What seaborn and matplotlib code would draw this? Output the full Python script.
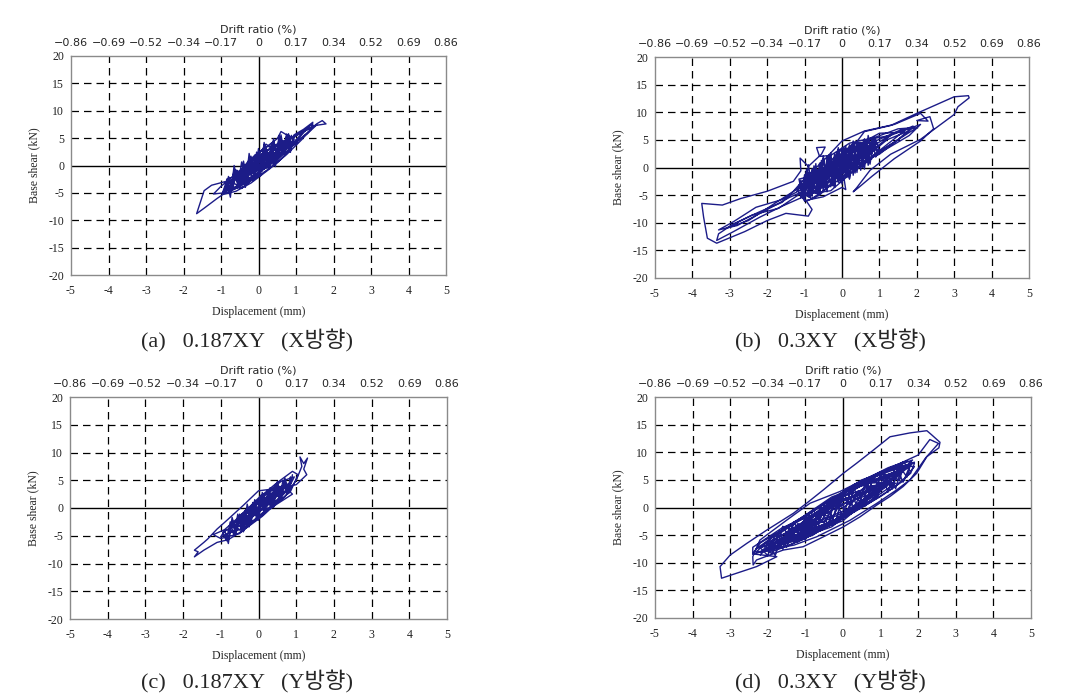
import matplotlib
matplotlib.use("Agg")
import matplotlib.pyplot as plt
import pandas as pd
import seaborn as sns

# ---------------- data ----------------
x_ticks = [-5, -4, -3, -2, -1, 0, 1, 2, 3, 4, 5]
y_ticks = [-20, -15, -10, -5, 0, 5, 10, 15, 20]
drift_labels = ["\u22120.86", "\u22120.69", "\u22120.52", "\u22120.34", "\u22120.17", "0",
                "0.17", "0.34", "0.52", "0.69", "0.86"]
captions = ["(a)   0.187XY   (X방향)", "(b)   0.3XY   (X방향)",
            "(c)   0.187XY   (Y방향)", "(d)   0.3XY   (Y방향)"]

# (a) 0.187XY, X direction -- outer cycles
a_disp = [0.0, 0.3, 0.55, 0.1, -0.45, -0.1, 0.6, 0.8, 0.3, -0.6,
          -0.75, -0.2, 0.45, 0.95, 0.6, 0.5, 0.0, -0.5, -0.9, -0.4,
          0.2, 0.7, 1.05, 0.7, 0.2, -0.35, -0.85, -0.95, -0.5, 0.1,
          0.5, 1.3, 1.55, 1.7, 1.8, 1.5, 1.1, 0.6, 0.1, -0.4,
          -0.7, -1.25, -1.45, -1.65, -1.45, -1.1, -0.95, -0.6, -0.2, 0.3,
          0.75, 1.15, 1.4, 1.45, 1.1, 0.4, -0.3, -0.65, -1.0, -1.2,
          -0.8, -0.1, 0.5, 0.85, 0.9, 0.4, -0.2, -0.55, -0.3, 0.25,
          0.65, 0.2, -0.25, -0.7, -0.45, 0.0, 0.4, 0.0, -0.3, 0.15,
          0.35, -0.1, 0.55, 0.2, -0.15, -0.6, -0.2, 0.35, 0.75, 0.05,
          -0.45, 0.0, 0.25, -0.1, -0.35, 0.1]
a_shear = [0.0, 0.5, 3.2, 1.8, -2.8, -1.8, 2.5, 4.6, 3.0, -2.2,
           -4.3, -2.6, 1.2, 4.8, 6.2, 4.9, 2.3, -1.5, -4.6, -3.9,
           -0.3, 2.8, 4.2, 4.4, 2.6, -1.0, -3.4, -5.0, -3.6, -0.8,
           1.0, 6.0, 7.6, 8.2, 7.6, 7.3, 5.8, 3.7, 1.4, -1.2,
           -2.6, -3.6, -4.6, -8.8, -7.8, -6.0, -5.3, -4.7, -3.2, -0.6,
           2.0, 4.7, 6.6, 7.6, 5.9, 3.6, 0.2, -1.8, -3.8, -5.2,
           -4.9, -2.4, 0.5, 2.9, 4.1, 2.7, -0.2, -3.2, -2.9, 0.3,
           3.8, 3.4, 1.0, -3.0, -4.2, -1.6, 2.0, 0.6, -1.8, 0.9,
           1.6, -0.9, 2.2, 3.9, 0.4, -3.9, -1.3, -0.2, 3.3, 1.2,
           -1.9, -0.5, 2.2, 1.9, -2.2, -0.2]
# (a) small cycles in the dense core
a_core_disp = [-0.85, -0.75, -0.65, -0.55, -0.45, -0.35, -0.25, -0.15, -0.05, 0.05,
               0.15, 0.25, 0.35, 0.45, 0.55, 0.65, 0.75, 0.85, 0.95,
               0.9, 0.8, 0.7, 0.6, 0.5, 0.4, 0.3, 0.2, 0.1, 0.0,
               -0.1, -0.2, -0.3, -0.4, -0.5, -0.6, -0.7, -0.8, -0.9,
               -0.8, -0.68, -0.56, -0.44, -0.32, -0.2, -0.08, 0.04, 0.16, 0.28,
               0.4, 0.52, 0.64, 0.76, 0.88,
               0.7, 0.6, 0.5, 0.4, 0.3, 0.2, 0.1, 0.0, -0.1, -0.2,
               -0.3, -0.4, -0.5, -0.6, -0.7,
               -0.95, -0.85, -0.75, -0.65, -0.55, -0.45, -0.35, -0.25, -0.15, -0.05,
               0.05, 0.15, 0.25, 0.35, 0.45, 0.55, 0.65, 0.75, 0.85, 0.95,
               1.2, 1.45, 1.1, 0.8, 1.3, 1.55, 1.2, 0.9]
a_core_shear = [-2.5, -5.0, -0.75, -3.75, 0.65, -3.45, 0.85, -2.75, 2.45, -1.15,
                3.75, -0.25, 4.05, 0.45, 5.25, 2.15, 5.75, 2.95, 5.5,
                3.5, 5.8, 1.8, 5.6, 1.3, 4.9, -0.4, 3.4, -1.0, 3.1,
                -2.1, 1.7, -2.8, 0.8, -4.2, -0.8, -4.4, -2.0, -4.8,
                -3.0, -3.9, -0.9, -2.5, -0.1, -1.8, 1.0, -0.5, 2.8, 1.2,
                3.6, 1.7, 4.5, 3.3, 5.5,
                3.4, 4.7, 1.4, 4.2, 0.9, 2.1, -0.7, 1.8, -0.9, 1.3,
                -2.5, -0.7, -3.9, -1.1, -3.6,
                -4.8, -2.8, -5.8, 0.0, -3.2, -0.6, -4.0, 2.2, -1.4, 1.6,
                -2.0, 4.2, 0.6, 3.4, -0.2, 5.4, 2.4, 5.4, 2.4, 5.6,
                6.6, 7.9, 5.2, 3.4, 5.8, 7.4, 6.2, 3.9]

# (b) 0.3XY, X direction -- outer cycles
b_disp = [0.0, 0.4, 0.8, 0.3, -0.4, -0.9, -0.5, 0.2, 0.9, 1.3,
          0.8, 0.0, -0.6, -1.1, -0.8, -0.2, 0.5, 1.0, 1.6, 1.9,
          1.5, 0.9, 0.2, -0.3, -0.6, -0.68, -0.45, -0.55, -0.9, -1.12,
          -1.1, -1.3, -2.0, -2.7, -3.2, -3.75, -3.7, -3.6, -3.35, -3.1,
          -2.6, -2.0, -1.5, -0.9, -0.8, -0.95, -0.6, 0.0, 0.3, 0.6,
          1.3, 2.0, 2.6, 3.0, 3.38, 3.4, 3.1, 3.0, 2.1, 1.3,
          0.75, 0.4, 0.3, 0.45, 0.8, 1.4, 2.1, 2.45, 2.35, 2.0,
          2.3, 2.1, 1.4, 0.6, 0.0, -0.5, -1.0, -1.3, -1.6, -2.2,
          -2.9, -3.3, -3.35, -2.9, -2.2, -1.6, -1.1, -0.6, 0.1, 0.7,
          1.2, 1.7, 1.0, 0.4, -0.2, -0.8, -1.2, -1.0, -0.5, 0.0,
          0.1, 0.05, 0.5, 1.0, 0.6, 0.0, -0.6, -1.0, -0.7, -0.2,
          0.4, 0.9, 0.3, -0.3, -0.8, -0.4, 0.2, 0.6, 0.0, -0.5,
          -1.0, -0.7, -0.2, 0.35, 0.7, 0.1, -0.4, -0.9, -0.3, 0.25,
          0.8, 0.5, -0.1, -0.5, 0.0]
b_shear = [0.0, 2.0, 4.2, 3.0, -0.8, -3.8, -3.2, 0.4, 3.6, 5.8,
           5.2, 2.6, -1.0, -4.6, -5.6, -2.8, 0.9, 2.4, 5.6, 7.2,
           7.0, 5.5, 4.4, 2.2, 2.0, 3.6, 3.7, 2.4, 0.2, 1.7,
           -0.6, -2.5, -4.3, -5.6, -6.8, -6.5, -9.0, -12.8, -13.7, -13.0,
           -11.6, -9.6, -8.3, -8.8, -7.6, -6.1, -5.0, -1.0, 3.8, 6.5,
           7.6, 9.8, 11.6, 12.8, 13.0, 12.6, 11.0, 9.6, 5.1, 2.4,
           -0.5, -3.6, -4.4, -3.6, -1.6, 1.6, 4.8, 7.0, 9.2, 8.5,
           8.4, 9.8, 7.8, 6.6, 4.8, 1.2, -2.0, -4.3, -6.3, -8.0,
           -10.2, -12.0, -13.2, -11.6, -9.0, -7.0, -5.5, -3.8, -0.5, 2.2,
           5.0, 6.4, 6.2, 4.0, 1.0, -2.0, -4.0, -6.0, -5.3, -3.6,
           -4.0, -1.8, 0.4, 3.0, 3.8, 1.8, -1.6, -3.2, -4.6, -1.6,
           1.2, 4.6, 4.4, 0.6, -3.0, -2.0, 1.0, 2.8, 3.3, -0.2,
           -2.6, -2.8, 0.0, 2.2, 3.0, 1.5, -1.5, -4.8, -4.2, -1.0,
           1.6, 2.5, -0.6, -2.4, -0.2]
# (b) small cycles in the dense core
b_core_disp = [-1.15, -1.05, -0.95, -0.85, -0.75, -0.65, -0.55, -0.45, -0.35, -0.25,
               -0.15, -0.05, 0.05, 0.15, 0.25, 0.35, 0.45, 0.55, 0.65, 0.75,
               0.85, 0.95,
               0.9, 0.8, 0.7, 0.6, 0.5, 0.4, 0.3, 0.2, 0.1, 0.0,
               -0.1, -0.2, -0.3, -0.4, -0.5, -0.6, -0.7, -0.8, -0.9, -1.0,
               -1.1,
               -1.0, -0.85, -0.7, -0.55, -0.4, -0.25, -0.1, 0.05, 0.2, 0.35,
               0.5, 0.65, 0.8,
               0.7, 0.55, 0.4, 0.25, 0.1, -0.05, -0.2, -0.35, -0.5, -0.65,
               -0.8, -0.95,
               -1.2, -1.1, -1.0, -0.9, -0.8, -0.7, -0.6, -0.5, -0.4, -0.3,
               -0.2, -0.1, 0.0, 0.1, 0.2, 0.3, 0.4, 0.5, 0.6, 0.7,
               0.8, 0.9, 1.0,
               0.5, 0.4, 0.3, 0.2, 0.1, 0.0, -0.1, -0.2, -0.3, -0.4,
               -0.5, -0.6, -0.7, -0.8, -0.9, -1.0]
b_core_shear = [-2.1, -5.6, -0.3, -5.4, 0.3, -4.8, 1.3, -3.7, 2.2, -3.3,
                2.7, -2.7, 3.6, -1.7, 4.0, -1.0, 4.5, 0.0, 5.0, 0.6,
                5.4, 2.4,
                1.9, 5.4, 0.4, 5.2, -0.5, 4.6, -1.4, 4.1, -1.7, 3.5,
                -2.7, 2.4, -3.5, 1.9, -4.3, 0.8, -4.7, -0.2, -5.3, -1.3,
                -5.5,
                -2.3, -4.0, -0.5, -3.1, 0.8, -1.9, 1.7, -1.0, 2.7, 0.4,
                3.9, 1.6, 4.4,
                2.0, 3.8, 0.4, 3.0, -0.5, 2.0, -1.8, 0.7, -3.0, -0.4,
                -3.9, -2.1,
                -4.3, -2.3, -6.1, 0.5, -3.6, -1.0, -5.0, 2.1, -2.2, 0.6,
                -3.6, 3.6, -0.7, 2.2, -2.1, 4.8, 0.8, 3.3, -0.3, 5.8,
                2.4, 5.1, 3.1,
                4.3, -0.9, 4.3, -2.0, 3.9, -3.0, 3.3, -3.6, 2.7, -4.4,
                1.7, -4.9, 0.7, -5.2, -0.9, -4.9]
# (b) excursions fanning out of the core
b_fan_disp = [0.3, 1.2, 1.9, 1.5, 0.8, 1.7, 2.1, 1.8, 1.0, 0.5,
              1.3, 2.0, 1.6, 0.9, 0.2,
              -0.8, -1.6, -2.3, -2.9, -3.3, -2.8, -2.0, -1.4, -1.0, -1.7,
              -2.4, -3.1, -2.5, -1.8, -1.2, -0.6]
b_fan_shear = [1.5, 5.5, 7.5, 5.0, 2.0, 6.8, 7.8, 5.8, 2.6, 0.5,
               4.2, 7.2, 6.9, 4.8, 3.2,
               -3.0, -5.8, -7.2, -9.8, -11.3, -10.5, -7.6, -5.4, -4.2, -7.4,
               -8.6, -11.0, -9.6, -6.5, -3.9, -2.0]

# (c) 0.187XY, Y direction -- outer cycles
c_disp = [0.0, 0.4, 0.7, 0.3, -0.3, -0.6, -0.2, 0.3, 0.8, 0.95,
          0.6, 0.0, -0.5, -0.8, -0.4, 0.2, 0.7, 1.0, 1.15, 1.1,
          1.2, 1.3, 1.2, 1.28, 1.0, 0.6, 0.0, -0.4, -0.9, -1.1,
          -1.35, -1.45, -1.7, -1.6, -1.7, -1.45, -1.1, -0.8, -0.4, 0.1,
          0.5, 0.85, 1.05, 0.9, 0.5, 0.0, -0.45, -0.9, -1.2, -1.0,
          -0.5, 0.1, 0.6, 0.9, 0.7, 0.25, -0.25, -0.7, -0.5, 0.0,
          0.45, 0.75, 0.4, -0.1, -0.35, 0.1, 0.55, 0.2, -0.2, 0.05,
          0.6, 0.85, 0.35, -0.15, -0.6, -0.3, 0.2, 0.0, -0.3, 0.15]
c_shear = [0.0, 1.5, 4.2, 3.0, -0.5, -3.5, -2.6, 0.2, 3.6, 5.6,
           4.8, 1.5, -1.4, -4.3, -3.8, -0.6, 2.0, 5.0, 7.5, 9.2,
           8.0, 9.0, 7.0, 6.0, 4.2, 3.6, 3.1, 0.5, -2.6, -3.8,
           -5.6, -6.2, -7.6, -7.9, -8.8, -7.6, -6.2, -5.7, -4.0, -1.5,
           1.0, 3.0, 6.0, 6.6, 4.6, 1.8, -1.2, -3.9, -4.8, -5.5,
           -4.6, -1.0, 1.2, 2.5, 3.8, 2.2, -0.4, -2.9, -3.9, -1.9,
           0.9, 3.1, 2.6, 0.3, -2.4, -0.3, 2.5, 1.8, -1.2, 0.4,
           3.0, 4.6, 2.4, -0.9, -2.6, -2.5, 0.6, 1.0, -1.0, -0.1]
# (c) small cycles in the dense core
c_core_disp = [-0.95, -0.85, -0.75, -0.65, -0.55, -0.45, -0.35, -0.25, -0.15, -0.05,
               0.05, 0.15, 0.25, 0.35, 0.45, 0.55, 0.65, 0.75, 0.85,
               0.8, 0.7, 0.6, 0.5, 0.4, 0.3, 0.2, 0.1, 0.0, -0.1,
               -0.2, -0.3, -0.4, -0.5, -0.6, -0.7, -0.8, -0.9,
               -0.8, -0.65, -0.5, -0.35, -0.2, -0.05, 0.1, 0.25, 0.4, 0.55, 0.7,
               0.6, 0.45, 0.3, 0.15, 0.0, -0.15, -0.3, -0.45, -0.6,
               -1.0, -0.9, -0.8, -0.7, -0.6, -0.5, -0.4, -0.3, -0.2, -0.1,
               0.0, 0.1, 0.2, 0.3, 0.4, 0.5, 0.6, 0.7, 0.8, 0.9]
c_core_shear = [-4.4, -5.9, -2.5, -5.0, -1.1, -4.3, -0.4, -3.4, 1.0, -1.9,
                2.3, -0.9, 3.0, 0.0, 4.3, 1.5, 5.0, 2.5, 5.6,
                3.1, 5.4, 1.5, 4.5, 0.6, 3.6, -0.8, 2.2, -1.7, 1.5,
                -2.9, -0.2, -4.2, -1.1, -4.8, -2.6, -5.8, -4.1,
                -3.8, -4.5, -1.8, -3.0, -0.3, -1.3, 1.7, 0.5, 3.2, 1.9, 4.6,
                2.5, 3.5, 0.5, 2.0, -1.0, 0.3, -2.9, -1.6, -4.0,
                -5.2, -4.0, -6.4, -1.7, -4.1, -1.9, -4.3, 0.7, -2.0, 0.3,
                -2.2, 2.8, 0.3, 2.6, 0.1, 4.8, 2.4, 4.7, 2.6, 6.0]

# (d) 0.3XY, Y direction -- outer cycles
d_disp = [0.0, 0.5, 1.0, 0.6, 0.0, -0.6, -1.1, -0.6, 0.1, 0.8,
          1.4, 1.0, 0.3, -0.4, -1.0, -1.6, -1.2, -0.5, 0.3, 1.0,
          1.6, 1.9, 1.5, 0.8, 0.0, -0.8, -1.5, -2.0, -2.3, -1.8,
          -1.0, -0.2, 0.6, 1.3, 1.8, 1.9, 1.7, 1.2, 0.5, -0.2,
          -0.9, -1.6, -2.2, -2.4, -1.76, -2.30, -2.83, -3.23, -3.27, -3.0,
          -2.56, -2.03, -1.32, -0.97, -0.52, 0.01, 0.36, 0.81, 1.25, 1.78,
          2.23, 2.35, 2.58, 2.55, 2.23, 1.96, 1.60, 1.25, 0.90, 0.45,
          0.01, -0.52, -1.06, -1.59, -2.30, -2.39, -2.4, -2.21, -1.50, -0.88,
          -0.08, 0.63, 1.52, 2.0, 2.31, 2.54, 2.2, 1.91, 1.78, 1.43,
          0.90, 0.19, -0.70, -1.3, -2.2, -0.3, 1.8, 0.0, -1.9, 0.0,
          1.6, -0.3, -2.3, -0.6, 1.9, 0.3, -1.5, 0.2, 1.3, -0.2,
          -1.2, 0.3, 1.1, -0.3, -2.0, -0.5, 1.5, 0.1, -0.9, 0.4,
          0.9, -0.1, -1.7, 0.0, 1.7, 0.2, -2.1, -0.8, 1.2, -0.4,
          -1.3, 0.5, 1.6, 0.5, -1.8, -0.2, 0.8, -0.5, -0.8, 0.7,
          1.85, 1.0, -0.6, -1.6, -2.4, -2.4, -1.4, 0.5, 1.4, 0.6, 0.0]
d_shear = [0.0, 2.2, 4.5, 4.4, 2.0, -1.2, -4.6, -4.0, -1.0, 2.6,
           5.8, 6.0, 3.6, 0.6, -2.2, -5.8, -6.2, -3.8, -0.8, 2.0,
           4.8, 7.4, 7.6, 5.6, 2.8, -0.6, -3.4, -6.0, -8.0, -7.8,
           -5.6, -2.6, 0.4, 3.4, 6.2, 8.0, 8.4, 7.2, 4.8, 2.0,
           -1.0, -4.0, -6.4, -8.4, -8.9, -10.7, -11.9, -12.8, -10.7, -8.6,
           -6.5, -4.1, -1.05, 0.76, 3.2, 6.2, 8.0, 10.4, 12.8, 13.5,
           13.9, 13.2, 11.8, 10.8, 9.2, 6.2, 3.8, 2.0, 0.45, -1.7,
           -3.5, -5.3, -7.1, -7.7, -9.5, -10.4, -8.9, -5.9, -2.3, 0.76,
           2.9, 5.3, 8.0, 9.5, 12.3, 11.6, 9.0, 6.2, 5.0, 3.2,
           0.76, -2.3, -5.3, -6.8, -8.0, -3.5, 7.6, 2.8, -7.2, -2.4,
           6.8, 1.9, -7.4, -4.2, 8.2, 4.2, -5.6, -1.2, 5.0, 1.5,
           -5.0, -0.8, 4.4, 0.6, -6.6, -3.6, 6.2, 3.0, -3.6, 0.2,
           3.6, 0.9, -6.4, -2.0, 7.2, 3.4, -7.8, -5.0, 4.0, 0.4,
           -4.4, 0.8, 7.6, 5.0, -5.2, -2.8, 2.6, -0.6, -4.4, 1.0,
           8.6, 6.4, -0.8, -3.6, -7.2, -8.4, -6.8, 0.2, 4.4, 3.8, 0.5]
# (d) small cycles in the dense core
d_core_disp = [-2.1, -1.9, -1.7, -1.5, -1.3, -1.1, -0.9, -0.7, -0.5, -0.3,
               -0.1, 0.1, 0.3, 0.5, 0.7, 0.9, 1.1, 1.3, 1.5, 1.7,
               1.8, 1.6, 1.4, 1.2, 1.0, 0.8, 0.6, 0.4, 0.2, 0.0,
               -0.2, -0.4, -0.6, -0.8, -1.0, -1.2, -1.4, -1.6, -1.8, -2.0,
               -2.2,
               -2.0, -1.7, -1.4, -1.1, -0.8, -0.5, -0.2, 0.1, 0.4, 0.7,
               1.0, 1.3, 1.6,
               1.5, 1.2, 0.9, 0.6, 0.3, 0.0, -0.3, -0.6, -0.9, -1.2,
               -1.5, -1.8,
               -2.2, -2.0, -1.8, -1.6, -1.4, -1.2, -1.0, -0.8, -0.6, -0.4,
               -0.2, 0.0, 0.2, 0.4, 0.6, 0.8, 1.0, 1.2, 1.4, 1.6, 1.8]
d_core_shear = [-6.6, -8.4, -4.3, -7.2, -2.6, -5.9, -1.2, -4.5, 0.5, -2.8,
                2.1, -1.4, 3.4, 0.0, 4.8, 1.7, 6.2, 3.3, 7.5, 5.5,
                7.9, 4.6, 7.5, 2.8, 6.2, 1.3, 4.8, -0.3, 3.1, -1.9,
                1.7, -3.2, 0.3, -4.8, -1.6, -6.2, -3.0, -7.5, -4.8, -8.7,
                -7.3,
                -6.7, -7.3, -3.8, -5.1, -1.3, -2.8, 0.9, -0.7, 3.0, 1.6,
                5.3, 4.1, 7.2,
                4.9, 6.0, 2.4, 3.9, 0.2, 1.7, -2.1, -0.8, -4.5, -2.9,
                -6.5, -5.7,
                -8.6, -6.4, -8.7, -3.4, -5.8, -3.5, -5.8, -0.3, -2.7, -0.4,
                -2.9, 2.7, 0.3, 2.5, 0.3, 5.6, 3.3, 5.7, 3.4, 8.3, 6.5]

panels = [(a_disp + a_core_disp, a_shear + a_core_shear),
          (b_disp + b_core_disp + b_fan_disp, b_shear + b_core_shear + b_fan_shear),
          (c_disp + c_core_disp, c_shear + c_core_shear),
          (d_disp + d_core_disp, d_shear + d_core_shear)]
for dx, dy in panels:
    assert len(dx) == len(dy), (len(dx), len(dy))

# ---------------- style ----------------
sns.set_style("white")
SERIF = ["Liberation Serif", "Noto Sans CJK KR", "DejaVu Sans"]
plt.rcParams["font.family"] = SERIF
NAVY = "#1c1c88"

W, H = 1083, 694
fig = plt.figure(figsize=(W / 100, H / 100), dpi=100)

# axes boxes in pixels: left, top, right, bottom
boxes = [(71, 56, 446, 275), (655, 57, 1029, 278),
         (70, 397, 447, 619), (655, 397, 1031, 618)]
cap_pos = [(247, 341), (830, 341), (247, 682), (830, 682)]

for i, ((dx, dy), (l, t, r, b)) in enumerate(zip(panels, boxes)):
    ax = fig.add_axes([l / W, 1 - b / H, (r - l) / W, (b - t) / H])
    df = pd.DataFrame({"Displacement": dx, "Shear": dy})
    sns.lineplot(data=df, x="Displacement", y="Shear", sort=False, estimator=None,
                 color=NAVY, lw=1.0, ax=ax, zorder=3)
    ax.set_xlim(x_ticks[0], x_ticks[-1])
    ax.set_ylim(y_ticks[0], y_ticks[-1])
    for v in x_ticks[1:-1]:
        if v != 0:
            ax.axvline(v, color="black", lw=0.9, ls=(0, (6, 4)), zorder=1)
    for v in y_ticks[1:-1]:
        if v != 0:
            ax.axhline(v, color="black", lw=0.9, ls=(0, (6, 4)), zorder=1)
    ax.axhline(0, color="black", lw=1.0, zorder=2)
    ax.axvline(0, color="black", lw=1.0, zorder=2)
    for s in ax.spines.values():
        s.set_color("#8a8a8a")
        s.set_linewidth(1.0)
    ax.set_xticks(x_ticks)
    ax.set_xticklabels([str(v) for v in x_ticks])
    ax.set_yticks(y_ticks)
    ax.set_yticklabels([str(v) for v in y_ticks])
    ax.tick_params(axis="x", length=0, labelsize=8.5, pad=7, colors="#222222")
    ax.tick_params(axis="y", length=0, labelsize=8.5, pad=5, colors="#222222")
    ax.set_xlabel("Displacement (mm)", fontsize=8.5, labelpad=7)
    ax.set_ylabel("Base shear (kN)", fontsize=8.5, labelpad=6)

    ax2 = ax.twiny()
    ax2.set_xlim(x_ticks[0], x_ticks[-1])
    ax2.set_xticks(x_ticks)
    ax2.set_xticklabels(drift_labels, fontfamily="DejaVu Sans", fontsize=8)
    ax2.tick_params(axis="x", length=0, pad=5.5)
    for s in ax2.spines.values():
        s.set_visible(False)
    ax2.set_xlabel("Drift ratio (%)", fontfamily="DejaVu Sans", fontsize=8, labelpad=4.5)

    cx, cy = cap_pos[i]
    fig.text(cx / W, 1 - cy / H, captions[i], ha="center", va="center",
             fontsize=16, family=SERIF)

fig.savefig("out.png", dpi=100)
